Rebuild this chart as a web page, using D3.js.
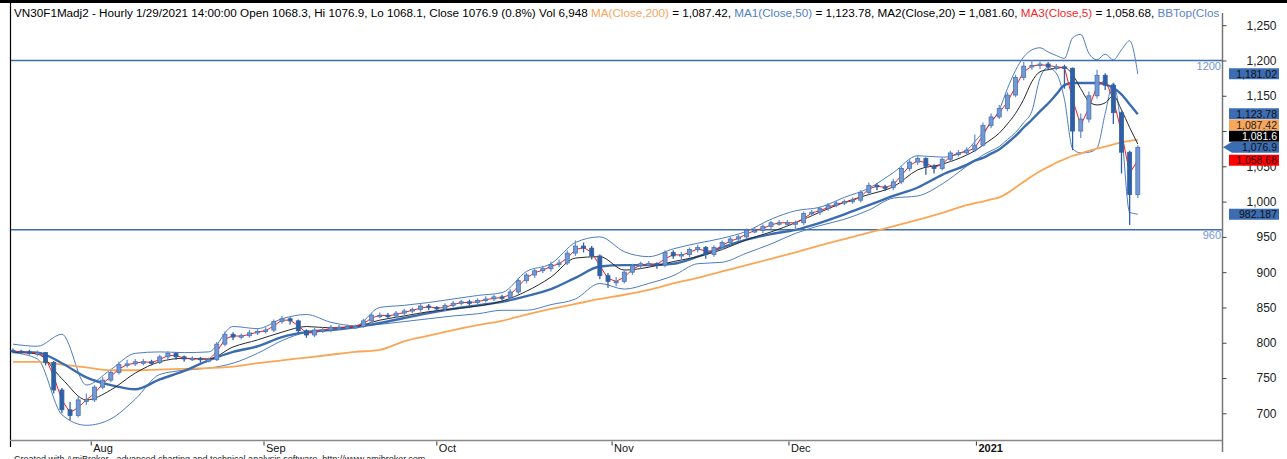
<!DOCTYPE html>
<html>
<head>
<meta charset="utf-8">
<script src="https://cdn.jsdelivr.net/npm/d3@7/dist/d3.min.js"></script>
<style>
  body { margin: 0; background: #fff; }
  text { font-family: "Liberation Sans", Arial, sans-serif; }
</style>
</head>
<body>
<div id="chart"></div>
<script>
// daily summary of the hourly VN30F1 bars, index 0 = ~20 Jul 2020, 138 = 29 Jan 2021
var close = [788,787,786,786,772,733,705,697,719,719,
  737,747,758,769,770,773,773,772,780,785,
  780,777,778,776,776,798,812,808,810,814,
  816,818,830,834,831,817,811,818,818,822,
  822,823,823,831,839,839,838,842,845,847,
  852,850,848,853,856,858,857,860,862,865,
  864,872,888,896,902,905,911,913,927,937,
  934,923,895,887,887,900,909,912,912,910,
  928,923,925,932,935,925,935,942,947,950,
  959,959,965,970,970,970,970,983,985,990,
  995,998,1000,1002,1013,1023,1021,1020,1028,1047,
  1056,1061,1050,1047,1060,1069,1069,1073,1080,1108,
  1120,1132,1151,1176,1192,1193,1195,1191,1191,1189,
  1100,1117,1150,1179,1165,1126,1070,1010,1076.9];
var high = [792,790,790,789,787,774,736,716,724,728,
  740,751,761,773,776,777,777,776,783,788,
  786,782,781,780,779,801,816,815,813,818,
  820,822,833,838,836,833,819,821,822,825,
  825,826,826,834,842,843,842,845,848,850,
  856,855,852,856,859,861,861,863,866,868,
  868,876,892,899,906,909,915,918,931,945,
  942,937,925,899,893,904,912,915,916,914,
  931,931,929,935,939,937,938,945,950,953,
  962,963,968,973,974,974,973,986,988,993,
  998,1001,1003,1006,1016,1027,1026,1024,1032,1050,
  1060,1066,1063,1053,1063,1072,1073,1077,1095,1112,
  1125,1137,1155,1180,1198,1200,1199,1198,1195,1194,
  1190,1125,1156,1187,1182,1167,1128,1072,1080];
var low = [785,784,783,781,768,728,700,690,694,712,
  716,734,744,755,765,767,768,768,770,777,
  776,773,774,772,772,774,795,804,805,807,
  811,813,815,827,826,812,807,808,814,815,
  818,819,820,821,828,835,834,835,839,842,
  844,846,844,845,850,853,853,854,857,859,
  860,861,869,884,892,899,901,907,910,923,
  928,918,890,878,880,884,896,905,908,905,
  907,919,918,921,928,919,922,931,938,944,
  947,955,955,961,966,965,960,967,980,981,
  987,992,995,997,999,1010,1016,1015,1016,1025,
  1043,1052,1038,1040,1044,1057,1064,1066,1070,1078,
  1104,1117,1128,1148,1172,1187,1188,1186,1186,1160,
  1073,1090,1112,1146,1158,1110,1040,967,1005];
var firstOpen = 789;

// MA3(Close,5), one value per day
var ma5 = [788,787,786,786,779,752,719,701,708,719,
  728,742,752,763,769,771,773,772,776,782,
  782,778,777,777,776,787,805,810,809,812,
  815,817,824,832,832,824,814,814,818,820,
  822,822,823,827,835,839,838,840,843,846,
  849,851,849,850,854,857,857,858,861,863,
  864,868,880,892,899,903,908,912,920,932,
  935,928,909,891,887,893,904,910,912,911,
  919,925,924,928,933,930,930,938,944,948,
  954,959,962,967,970,970,970,976,984,987,
  992,996,999,1001,1007,1018,1022,1020,1024,1037,
  1051,1058,1055,1048,1053,1064,1069,1071,1076,1094,
  1114,1126,1141,1163,1184,1192,1194,1193,1191,1190,
  1145,1108,1133,1164,1172,1145,1098,1040,1058.68];

// indicator sample days
var sampleDays = [0,3,6,9,12,15,18,21,24,27,30,33,36,39,42,45,48,51,54,57,
  60,63,66,69,72,75,78,81,84,87,90,93,96,99,102,105,108,111,114,117,
  118,119,120,121,122,123,124,125,126,127,128,129,130,131,132,133,134,135,136,137,138];
var ma200 = [773,773,769,765,761,761,762,763,764,766,771,775,779,783,787,790,802,810,818,825,
  831,840,848,855,862,868,875,884,892,901,910,919,928,938,947,956,965,974,984,995,
  998,1000,1003,1006,1012,1020,1028,1036,1043,1049,1055,1060,1065,1068,1072,1075,1078,1081,1084,1086,1087.42];
var ma50 = [787,786,771,751,740,734,748,760,775,787,795,808,815,818,822,828,835,842,848,853,
  858,866,876,892,908,910,910,912,922,935,946,954,960,970,982,995,1008,1020,1038,1052,
  1058,1062,1068,1074,1083,1093,1105,1116,1128,1139,1152,1165,1168,1168,1168,1168,1166,1161,1152,1138,1123.78];
var ma20 = [787,784,749,719,733,757,773,778,777,794,804,815,823,821,823,832,838,844,848,852,
  859,873,893,920,922,903,907,915,922,932,946,957,970,985,999,1010,1021,1045,1053,1066,
  1072,1080,1088,1097,1110,1125,1145,1170,1184,1187,1189,1190,1180,1160,1142,1137,1140,1150,1130,1105,1081.6];
var bbTop = [798,795,812,740,762,785,787,786,787,823,820,834,840,829,824,850,853,857,862,867,
  871,901,912,942,950,929,922,933,941,948,958,975,987,992,1006,1019,1041,1065,1063,1073,
  1085,1098,1112,1130,1160,1186,1205,1215,1218,1212,1207,1203,1232,1237,1210,1201,1209,1201,1215,1228,1181.02];
var bbBot = [786,777,698,683,692,720,755,761,764,771,785,803,815,819,823,826,830,834,838,841,
  846,846,854,862,884,876,884,895,912,914,927,940,955,966,975,988,1005,1008,1025,1050,
  1058,1066,1072,1078,1088,1098,1112,1128,1175,1190,1182,1145,1075,1069,1070,1076,1125,1168,1100,985,982.187];

var levels = [1200, 960];
var yTicks = [700,750,800,850,900,950,1000,1050,1100,1150,1200,1250];
var monthTicks = [9.6, 30.8, 52.0, 73.5, 95.2, 118.2];
var monthLabels = ["Aug", "Sep", "Oct", "Nov", "Dec", "2021"];

// last values shown in the right margin (BBTop, MA50, MA200, MA20, Close, MA5, BBBot)
var lastValues = [1181.02, 1123.78, 1087.42, 1081.6, 1076.9, 1058.68, 982.187];
var lastLabels = ["1,181.02", "1,123.78", "1,087.42", "1,081.6", "1,076.9", "1,058.68", "982.187"];

var W = 1287, H = 459;
var left = 10, right = 1222, bottom = 440.5;

var svg = d3.select('#chart').append('svg')
  .attr('width', W).attr('height', H)
  .style('background', '#fff');

var x = d3.scaleLinear().domain([0, 138]).range([13, 1137.8]);
var y = d3.scaleLinear().domain([700, 1250]).range([413.3, 25.2]);

// frame
svg.append('line').attr('x1', 0).attr('x2', W).attr('y1', 1.5).attr('y2', 1.5)
  .attr('stroke', '#000').attr('stroke-width', 3);
svg.append('line').attr('x1', left + 0.5).attr('x2', left + 0.5).attr('y1', 0).attr('y2', 447)
  .attr('stroke', '#000').attr('stroke-width', 1.2);
svg.append('line').attr('x1', right + 0.5).attr('x2', right + 0.5).attr('y1', 13).attr('y2', 452)
  .attr('stroke', '#777').attr('stroke-width', 1.5);
svg.append('line').attr('x1', left).attr('x2', right).attr('y1', bottom).attr('y2', bottom)
  .attr('stroke', '#888').attr('stroke-width', 1.5);

// title, cut at the price axis like the original
var tbox = svg.append('svg').attr('x', 0).attr('y', 0).attr('width', right - 3).attr('height', 24)
  .style('overflow', 'hidden');
var title = tbox.append('text').attr('x', 14).attr('y', 17)
  .style('font-size', '11.7px');
[["VN30F1Madj2 - Hourly 1/29/2021 14:00:00 Open 1068.3, Hi 1076.9, Lo 1068.1, Close 1076.9 (0.8%) Vol 6,948 ", "#000"],
 ["MA(Close,200)", "#f8a65c"], [" = 1,087.42, ", "#000"],
 ["MA1(Close,50)", "#4f7fc4"], [" = 1,123.78, MA2(Close,20) = 1,081.60, ", "#000"],
 ["MA3(Close,5)", "#f02828"], [" = 1,058.68, ", "#000"],
 ["BBTop(Close,20,2) = 1,181.02", "#5a84c8"]]
  .forEach(function(p) { title.append('tspan').attr('fill', p[1]).text(p[0]); });

// y axis
var yAxis = svg.append('g').attr('transform', 'translate(' + (right + 0.5) + ',0)')
  .call(d3.axisRight(y).tickValues(yTicks).tickSize(4).tickFormat(d3.format(',')));
yAxis.select('.domain').remove();
yAxis.selectAll('line').attr('stroke', '#444');
yAxis.selectAll('text').attr('x', 54).attr('text-anchor', 'end')
  .attr('fill', '#222').style('font-size', '12px').style('font-family', '"Liberation Sans", Arial, sans-serif');

// x axis (month starts)
var xg = svg.append('g');
xg.selectAll('line').data(monthTicks).enter().append('line')
  .attr('x1', function(d) { return x(d); }).attr('x2', function(d) { return x(d); })
  .attr('y1', bottom + 1).attr('y2', bottom + 5).attr('stroke', '#333');
xg.selectAll('text').data(monthTicks).enter().append('text')
  .attr('x', function(d) { return x(d) + 2; }).attr('y', bottom + 11)
  .style('font-size', '11px').attr('fill', '#111')
  .style('font-weight', function(d, i) { return monthLabels[i] === '2021' ? 'bold' : 'normal'; })
  .text(function(d, i) { return monthLabels[i]; });

// footer (the bottom edge cuts it in the original too)
svg.append('text').attr('x', 14).attr('y', 462).style('font-size', '9px').attr('fill', '#222')
  .text('Created with AmiBroker - advanced charting and technical analysis software. http://www.amibroker.com');

// horizontal levels
svg.selectAll('.level').data(levels).enter().append('line').attr('class', 'level')
  .attr('x1', left + 1).attr('x2', right).attr('y1', function(d) { return y(d); }).attr('y2', function(d) { return y(d); })
  .attr('stroke', '#3d6ea9').attr('stroke-width', 1.5);
svg.selectAll('.levelText').data(levels).enter().append('text').attr('class', 'levelText')
  .attr('x', right - 1).attr('y', function(d) { return y(d) + 9.5; })
  .attr('text-anchor', 'end').attr('fill', '#7596cf').style('font-size', '11px')
  .text(function(d) { return d; });

// indicator lines
function sampled(vals) {
  return d3.line().curve(d3.curveMonotoneX)
    .x(function(d, i) { return x(sampleDays[i]); })
    .y(function(d) { return y(d); })(vals);
}
var plot = svg.append('g');
[[bbTop, '#4d7dbf', 1], [bbBot, '#4d7dbf', 1], [ma200, '#fba654', 1.8],
 [ma50, '#3b6cb0', 2.4], [ma20, '#2a2a2a', 1]].forEach(function(s) {
  plot.append('path').attr('d', sampled(s[0])).attr('fill', 'none')
    .attr('stroke', s[1]).attr('stroke-width', s[2]);
});

plot.append('path')
  .attr('d', d3.line().x(function(d, i) { return x(i); }).y(function(d) { return y(d); })(ma5))
  .attr('fill', 'none').attr('stroke', '#ff1a1a').attr('stroke-width', 1);

// candles
var candles = plot.selectAll('.c').data(close).enter().append('g').attr('class', 'c');
function openOf(i) { return i === 0 ? firstOpen : close[i - 1]; }
candles.append('line')
  .attr('x1', function(d, i) { return x(i); }).attr('x2', function(d, i) { return x(i); })
  .attr('y1', function(d, i) { return y(high[i]); }).attr('y2', function(d, i) { return y(low[i]); })
  .attr('stroke', function(d, i) { return d >= openOf(i) ? '#6c93cc' : '#2f60a5'; })
  .attr('stroke-width', 1.3);
candles.append('rect')
  .attr('x', function(d, i) { return x(i) - 2; }).attr('width', 4)
  .attr('y', function(d, i) { return y(Math.max(d, openOf(i))); })
  .attr('height', function(d, i) { return Math.max(1.5, Math.abs(y(d) - y(openOf(i)))); })
  .attr('fill', function(d, i) { return d >= openOf(i) ? '#7499d0' : '#2f60a5'; })
  .attr('stroke', function(d, i) { return d >= openOf(i) ? '#4774b8' : '#2f60a5'; })
  .attr('stroke-width', 0.8);

// last-value boxes on the right axis, stacked upward so they do not overlap
var boxFill = ['#3c6db3', '#3c6db3', '#f7a65c', '#000', '#3c6db3', '#ff0000', '#3c6db3'];
var boxText = ['#111', '#111', '#222', '#fff', '#111', '#300', '#111'];
var boxY = lastValues.map(function(v) { return y(v); });
for (var k = boxY.length - 2; k >= 0; k--) {
  if (k < 4) boxY[k] = Math.min(boxY[k], boxY[k + 1] - 11.2);
}
var boxes = svg.selectAll('.box').data(lastValues).enter().append('g').attr('class', 'box');
boxes.append('path')
  .attr('d', function(d, i) {
    var t = boxY[i] - 5.5, b = boxY[i] + 5.5;
    if (i === 4) return 'M1223,' + boxY[i] + 'L1232,' + t + 'H1279V' + b + 'H1232Z';
    return 'M1229,' + t + 'H1279V' + b + 'H1229Z';
  })
  .attr('fill', function(d, i) { return boxFill[i]; });
boxes.append('text')
  .attr('x', 1277).attr('y', function(d, i) { return boxY[i] + 3.8; })
  .attr('text-anchor', 'end').style('font-size', '10.5px')
  .attr('fill', function(d, i) { return boxText[i]; })
  .text(function(d, i) { return lastLabels[i]; });
</script>
</body>
</html>
